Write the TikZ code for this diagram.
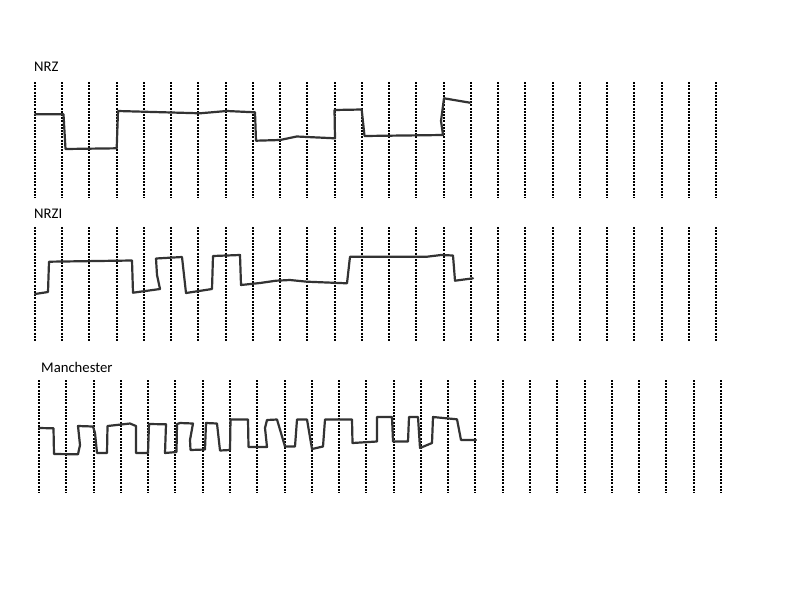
\documentclass[tikz,border=0pt]{standalone}
\usepackage{fontspec}
\setmainfont{Carlito}
\begin{document}
\begin{tikzpicture}[x=1pt,y=-1pt,
  grid/.style={line width=2pt,dash pattern=on 2pt off 1.2pt,black},
  wave/.style={line width=2.2pt,black!80,line join=round,line cap=round},
  lbl/.style={anchor=south west,inner sep=0pt,font=\fontsize{14.7}{16}\selectfont}]
\useasboundingbox (0,0) rectangle (800,600);
% labels
\node[lbl] (nrz) at (34,72) {NRZ};
\node[lbl] (nrzi) at (34,219) {NRZI};
\node[lbl] (man) at (41,373) {Manchester};
% dotted grids
\foreach \i in {0,...,25}{
  \pgfmathsetmacro{\xa}{round(35+27.24*\i)}
  \pgfmathsetmacro{\xb}{round(39+27.28*\i)}
  \draw[grid] (\xa,82) -- (\xa,198);
  \draw[grid] (\xa,227) -- (\xa,342);
  \draw[grid] (\xb,380) -- (\xb,493);
}
% NRZ
\draw[wave] (35,114.3) -- (63.5,114.3) -- (65.5,149) -- (116.7,148.3) -- (118,111)
  -- (200,113.3) -- (226.7,111) -- (255,112.3) -- (256,140.7) -- (280,140)
  -- (296.7,136.5) -- (335,138.3) -- (334.5,110) -- (361.7,109.5) -- (364.5,136)
  -- (443,135) -- (441,121) -- (444,98.3) -- (470,102.7);
% NRZI
\draw[wave] (35,294) -- (48,292) -- (49,261.7) -- (132,260.5) -- (133,292.7)
  -- (160,289) -- (157,275) -- (156,258.5) -- (182,257) -- (186,293)
  -- (212,289) -- (213,256) -- (240,255) -- (241,285) -- (260,283)
  -- (276,280.7) -- (290,280) -- (307,281.7) -- (347,283.3) -- (350,256.7)
  -- (427,256.7) -- (441,255) -- (453,255.5) -- (455,280.7) -- (473,278.3);
% Manchester
\draw[wave] (39,428) -- (53.5,428.3) -- (54,454) -- (78,454.3) -- (80,445) -- (78,426)
  -- (93,426.5) -- (95,433) -- (97,453) -- (107,453) -- (107.5,426)
  -- (130,423.5) -- (136,426) -- (136,453) -- (148,453) -- (149,424)
  -- (166,424.3) -- (165,453) -- (176.5,452) -- (177,424) -- (180,423)
  -- (193,423.5) -- (190,440) -- (190.5,450) -- (205,449.5) -- (206,423)
  -- (217,423.5) -- (220,450.5) -- (230,450) -- (230.5,419.5) -- (248,419.5)
  -- (248.5,447) -- (267,447) -- (265,428) -- (267,420) -- (277,419.5)
  -- (285,446.5) -- (295,446.5) -- (297,419.5) -- (307,419.5) -- (312,449)
  -- (323,446.5) -- (325,419.5) -- (352,419.5) -- (352.5,443) -- (377,441.5)
  -- (377,417) -- (392,417) -- (393,441.5) -- (408,441.5) -- (409,417)
  -- (418,417) -- (420,448) -- (432,443) -- (433,417) -- (457,419.3)
  -- (461,440) -- (476,440);
\end{tikzpicture}
\end{document}
